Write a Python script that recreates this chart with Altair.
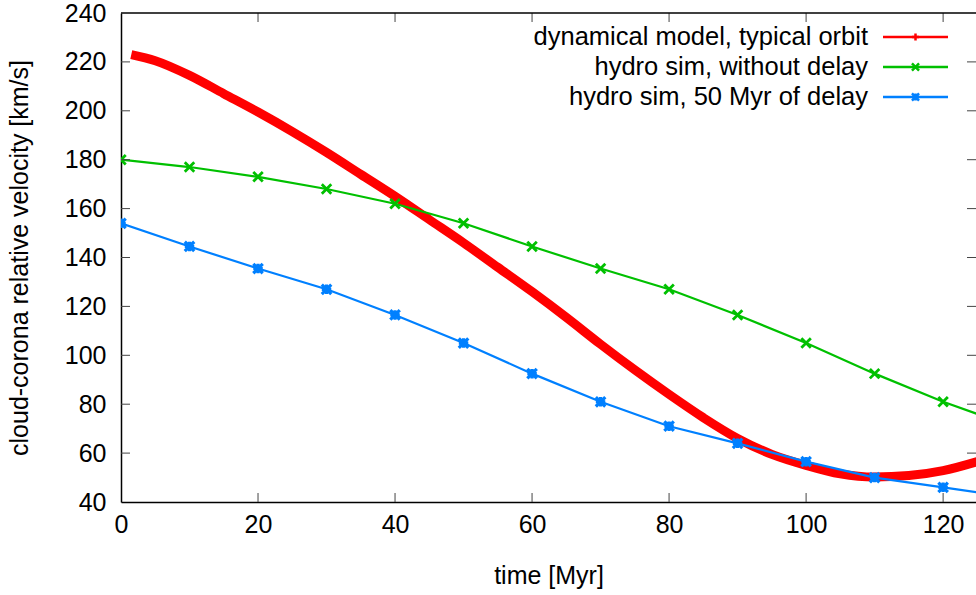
import altair as alt
import pandas as pd

# ---- data ----
t_orbit = [1.5, 5, 10, 15, 20, 25, 30, 35, 40, 45, 50, 55, 60, 65, 70, 75,
           80, 85, 90, 95, 100, 105, 110, 115, 120, 125]
v_orbit = [223, 220.5, 214.5, 207, 199.5, 191.5, 183, 174, 165, 155.5, 146,
           136, 126, 115.5, 104.5, 94, 84, 74.5, 66, 59.5, 55, 51.5, 50.2,
           50.8, 52.8, 56.5]

t_hydro = [0, 10, 20, 30, 40, 50, 60, 70, 80, 90, 100, 110, 120, 130]
v_nodelay = [180, 177, 173, 168, 162, 154, 144.5, 135.5, 127, 116.5, 105,
             92.5, 81, 71]
v_delay = [154, 144.5, 135.5, 127, 116.5, 105, 92.5, 81, 71, 64, 56.5, 50,
           46, 42]

series_names = ["dynamical model, typical orbit",
                "hydro sim, without delay",
                "hydro sim, 50 Myr of delay"]
series_colors = ["#ff0000", "#00c000", "#0080ff"]

x_ticks = [0, 20, 40, 60, 80, 100, 120]
y_ticks = [40, 60, 80, 100, 120, 140, 160, 180, 200, 220, 240]
x_title = "time [Myr]"
y_title = "cloud-corona relative velocity [km/s]"

# ---- layout ----
W, H = 855, 489
FONT = "Liberation Sans"
FS = 25

orbit = pd.DataFrame({"t": t_orbit, "v": v_orbit})
nodelay = pd.DataFrame({"t": t_hydro, "v": v_nodelay})
delay = pd.DataFrame({"t": t_hydro, "v": v_delay})

xs = alt.Scale(domain=[0, 124.8], nice=False, zero=False)
ys = alt.Scale(domain=[40, 240], nice=False, zero=False)

X_SHAPE = "M-1,-1L1,1M-1,1L1,-1"
STAR_SHAPE = "M-1,0L1,0M0,-1L0,1M-1,-1L1,1M-1,1L1,-1"
PLUS_SHAPE = "M-1,0L1,0M0,-1L0,1"

X = alt.X("t:Q", scale=xs,
          axis=alt.Axis(values=x_ticks, ticks=False, grid=False,
                        labelPadding=10, labelFlush=False,
                        title=x_title, titlePadding=26,
                        domainColor="black", domainWidth=1.5))
Y = alt.Y("v:Q", scale=ys,
          axis=alt.Axis(values=y_ticks, ticks=False, grid=False,
                        labelPadding=15, labelFlush=False,
                        title=y_title, titlePadding=32,
                        domainColor="black", domainWidth=1.5))
Xp = alt.X("t:Q", scale=xs)
Yp = alt.Y("v:Q", scale=ys)

red_line = alt.Chart(orbit).mark_line(
    color=series_colors[0], strokeWidth=9, interpolate="monotone",
    clip=True, strokeCap="butt").encode(x=X, y=Y)

green_line = alt.Chart(nodelay).mark_line(
    color=series_colors[1], strokeWidth=2.2, clip=True).encode(x=Xp, y=Yp)
green_pts = alt.Chart(nodelay).mark_point(
    shape=X_SHAPE, color=series_colors[1], size=90, strokeWidth=2.8,
    filled=False, opacity=1, clip=True).encode(x=Xp, y=Yp)

blue_line = alt.Chart(delay).mark_line(
    color=series_colors[2], strokeWidth=2.2, clip=True).encode(x=Xp, y=Yp)
blue_pts = alt.Chart(delay).mark_point(
    shape=STAR_SHAPE, color=series_colors[2], size=90, strokeWidth=3.2,
    filled=False, opacity=1, clip=True).encode(x=Xp, y=Yp)

# inward ticks (gnuplot style) and top border
ytk = pd.DataFrame({"v": y_ticks[1:-1]})
xtk = pd.DataFrame({"t": x_ticks[1:]})
TICK = "#444444"
left_ticks = alt.Chart(ytk).mark_rule(color=TICK, strokeWidth=1).encode(
    y=Yp, x=alt.value(0), x2=alt.value(9))
right_ticks = alt.Chart(ytk).mark_rule(color=TICK, strokeWidth=1).encode(
    y=Yp, x=alt.value(W - 9), x2=alt.value(W))
bottom_ticks = alt.Chart(xtk).mark_rule(color=TICK, strokeWidth=1).encode(
    x=Xp, y=alt.value(H), y2=alt.value(H - 9))
top_ticks = alt.Chart(xtk).mark_rule(color=TICK, strokeWidth=1).encode(
    x=Xp, y=alt.value(0), y2=alt.value(9))
top_border = alt.Chart(pd.DataFrame({"v": [240]})).mark_rule(
    color="black", strokeWidth=1.5).encode(
    y=Yp, x=alt.value(0), x2=alt.value(W))

# key (top right, gnuplot style)
shapes = [PLUS_SHAPE, X_SHAPE, STAR_SHAPE]
key_layers = []
for i, (name, col, shp) in enumerate(zip(series_names, series_colors, shapes)):
    row = pd.DataFrame({"label": [name]})
    yy = 24 + 30 * i
    key_layers.append(alt.Chart(row).mark_text(
        align="right", baseline="middle", font=FONT, fontSize=25.5,
        color="black").encode(text="label:N", x=alt.value(747), y=alt.value(yy)))
    key_layers.append(alt.Chart(row).mark_rule(color=col, strokeWidth=2.5).encode(
        x=alt.value(762), x2=alt.value(827), y=alt.value(yy)))
    key_layers.append(alt.Chart(row).mark_point(
        shape=shp, color=col, size=50, strokeWidth=2.5, filled=False,
        opacity=1).encode(x=alt.value(794.5), y=alt.value(yy)))

chart = alt.layer(
    red_line, green_line, blue_line, green_pts, blue_pts,
    left_ticks, right_ticks, bottom_ticks, top_ticks, top_border,
    *key_layers
).properties(
    width=W, height=H,
    background="white",
    autosize=alt.AutoSizeParams(type="none"),
    padding={"left": 121, "top": 13, "right": 0, "bottom": 93},
).configure_view(strokeWidth=0).configure_axis(
    labelFont=FONT, labelFontSize=FS, labelColor="black",
    titleFont=FONT, titleFontSize=FS, titleColor="black",
    titleFontWeight="normal",
)

chart.save("out.html", embed_options={"renderer": "svg", "actions": False})
